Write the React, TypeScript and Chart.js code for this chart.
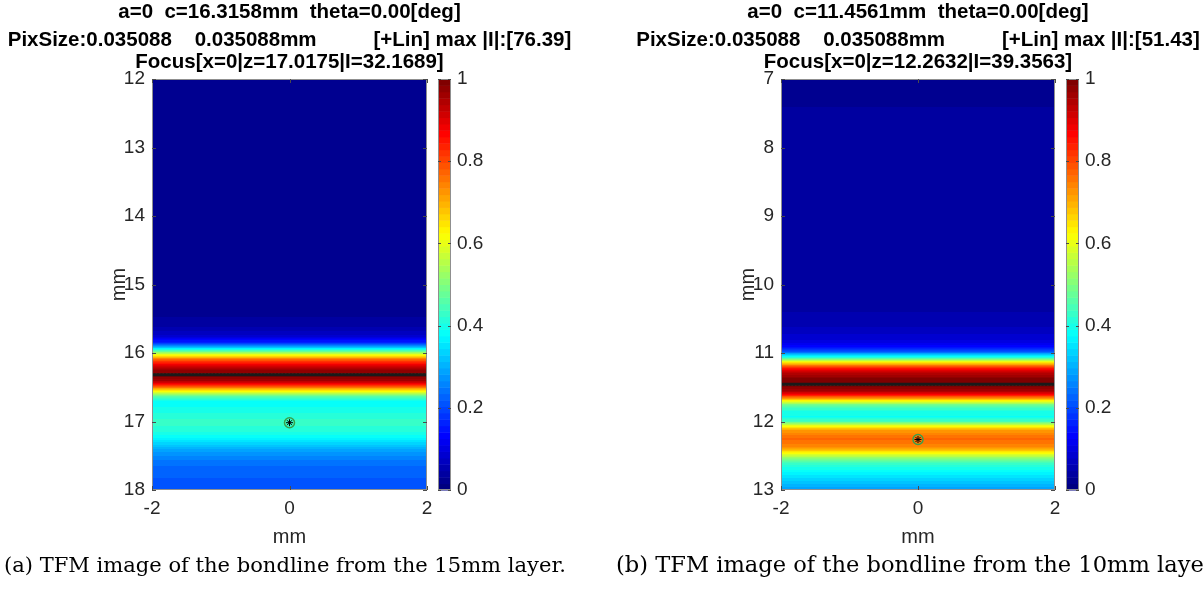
import React, { useEffect, useRef } from "react";
import { Chart, registerables } from "chart.js";

Chart.register(...registerables);

// ---------- data ----------
const X_RANGE = [-2, 2];
const X_TICKS = [-2, 0, 2];
const CB_TICKS = [0, 0.2, 0.4, 0.6, 0.8, 1];

const A_TITLE = [
  "a=0  c=16.3158mm  theta=0.00[deg]",
  "PixSize:0.035088    0.035088mm          [+Lin] max |I|:[76.39]",
  "Focus[x=0|z=17.0175|I=32.1689]",
];
const A_Y_RANGE = [12, 18];
const A_Y_TICKS = [12, 13, 14, 15, 16, 17, 18];
const A_DEPTH = [12, 15.3, 15.6, 15.75, 15.85, 15.93, 16.03, 16.1, 16.17, 16.25, 16.33, 16.4, 16.45, 16.5, 16.57, 16.64, 16.72, 16.85, 17.0, 17.15, 17.27, 17.42, 17.6, 17.8, 18];
const A_INTENSITY = [0.02, 0.02, 0.04, 0.08, 0.17, 0.35, 0.62, 0.78, 0.88, 0.97, 1.0, 0.96, 0.88, 0.76, 0.6, 0.45, 0.38, 0.4, 0.43, 0.41, 0.36, 0.29, 0.24, 0.22, 0.21];
const A_INTERFACE = 16.3158;
const A_FOCUS = { x: 0, z: 17.0175 };
const A_CAPTION = "(a) TFM image of the bondline from the 15mm layer.";

const B_TITLE = [
  "a=0  c=11.4561mm  theta=0.00[deg]",
  "PixSize:0.035088    0.035088mm          [+Lin] max |I|:[51.43]",
  "Focus[x=0|z=12.2632|I=39.3563]",
];
const B_Y_RANGE = [7, 13];
const B_Y_TICKS = [7, 8, 9, 10, 11, 12, 13];
const B_DEPTH = [7, 10.3, 10.6, 10.8, 10.9, 10.98, 11.06, 11.13, 11.2, 11.27, 11.38, 11.47, 11.55, 11.6, 11.65, 11.7, 11.76, 11.85, 11.93, 12.0, 12.06, 12.13, 12.25, 12.37, 12.45, 12.53, 12.63, 12.78, 12.9, 13];
const B_INTENSITY = [0.03, 0.04, 0.06, 0.09, 0.13, 0.22, 0.4, 0.62, 0.8, 0.92, 0.99, 1.0, 0.96, 0.88, 0.76, 0.62, 0.48, 0.4, 0.39, 0.45, 0.6, 0.72, 0.77, 0.74, 0.64, 0.52, 0.42, 0.36, 0.32, 0.28];
const B_INTERFACE = 11.4561;
const B_FOCUS = { x: 0, z: 12.2632 };
const B_CAPTION = "(b) TFM image of the bondline from the 10mm layer.";

// ---------- helpers ----------
const clamp01 = (t: number) => Math.max(0, Math.min(1, t));
function jet(v: number) {
  const r = clamp01(1.5 - Math.abs(4 * v - 3));
  const g = clamp01(1.5 - Math.abs(4 * v - 2));
  const b = clamp01(1.5 - Math.abs(4 * v - 1));
  return `rgb(${Math.round(r * 255)},${Math.round(g * 255)},${Math.round(b * 255)})`;
}
function jetLevel(v: number) {
  const i = Math.max(0, Math.min(63, Math.floor(v * 64)));
  return jet(i / 63);
}
function interp(zs: number[], vs: number[], z: number) {
  if (z <= zs[0]) return vs[0];
  for (let i = 1; i < zs.length; i++) {
    if (z <= zs[i]) {
      const t = (z - zs[i - 1]) / (zs[i] - zs[i - 1]);
      return vs[i - 1] + t * (vs[i] - vs[i - 1]);
    }
  }
  return vs[vs.length - 1];
}

const FONT = '"Liberation Sans", Arial, Helvetica, sans-serif';
const SERIF = '"DejaVu Serif", "Liberation Serif", serif';
const TEXT = "#262626";

type PanelProps = {
  left: number;
  width: number;
  yWidth: number;
  cbWidth: number;
  title: string[];
  yRange: number[];
  yTicks: number[];
  depth: number[];
  intensity: number[];
  iface: number;
  focus: { x: number; z: number };
};

const HEIGHT = 555;

function Panel(p: PanelProps) {
  const ref = useRef<HTMLCanvasElement | null>(null);
  useEffect(() => {
    const canvas = ref.current!;
    const heat = {
      id: "heat",
      beforeDatasetsDraw(chart: any) {
        const { ctx, chartArea, scales } = chart;
        const x0 = scales.x.getPixelForValue(X_RANGE[0]);
        const x1 = scales.x.getPixelForValue(X_RANGE[1]);
        ctx.save();
        for (let py = Math.floor(chartArea.top); py < Math.ceil(chartArea.bottom); py++) {
          const z = scales.y.getValueForPixel(py + 0.5);
          ctx.fillStyle = jetLevel(interp(p.depth, p.intensity, z));
          ctx.fillRect(x0, py, x1 - x0, 1);
        }
        ctx.restore();
      },
    };
    const deco = {
      id: "deco",
      afterDraw(chart: any) {
        const { ctx, chartArea, scales } = chart;
        const { left, right, top, bottom } = chartArea;
        ctx.save();
        // axes box
        ctx.strokeStyle = "#8f8f8f";
        ctx.lineWidth = 1;
        ctx.strokeRect(Math.round(left) + 0.5, Math.round(top) + 0.5, Math.round(right - left) - 1, Math.round(bottom - top) - 1);
        // inward ticks
        ctx.strokeStyle = "#4a4a4a";
        ctx.beginPath();
        const tl = 4;
        p.yTicks.forEach((v) => {
          const yy = Math.round(scales.y.getPixelForValue(v)) + 0.5;
          ctx.moveTo(left, yy); ctx.lineTo(left + tl, yy);
          ctx.moveTo(right, yy); ctx.lineTo(right - tl, yy);
        });
        X_TICKS.forEach((v) => {
          const xx = Math.round(scales.x.getPixelForValue(v)) + 0.5;
          ctx.moveTo(xx, bottom); ctx.lineTo(xx, bottom - tl);
          ctx.moveTo(xx, top); ctx.lineTo(xx, top + tl);
        });
        ctx.stroke();
        // colorbar
        const cb = scales.cb;
        const cx = Math.round(right) + 11;
        const cw = 13;
        for (let i = 0; i < 64; i++) {
          const y0 = cb.getPixelForValue(i / 64);
          const y1 = cb.getPixelForValue((i + 1) / 64);
          ctx.fillStyle = jet(i / 63);
          ctx.fillRect(cx, Math.min(y0, y1), cw, Math.abs(y1 - y0) + 0.5);
        }
        ctx.strokeStyle = "#8f8f8f";
        ctx.strokeRect(cx + 0.5, Math.round(top) + 0.5, cw - 1, Math.round(bottom - top) - 1);
        ctx.strokeStyle = "#4a4a4a";
        ctx.beginPath();
        CB_TICKS.forEach((v) => {
          const yy = Math.round(cb.getPixelForValue(v)) + 0.5;
          ctx.moveTo(cx + cw, yy); ctx.lineTo(cx + cw - 3, yy);
          ctx.moveTo(cx, yy); ctx.lineTo(cx + 3, yy);
        });
        ctx.stroke();
        // titles
        const mid = (left + right) / 2;
        ctx.fillStyle = "#000";
        ctx.textAlign = "center";
        ctx.textBaseline = "middle";
        ctx.font = `bold 20.5px ${FONT}`;
        const ty = [12, 40, 62];
        p.title.forEach((t, i) => ctx.fillText(t, mid, ty[i]));
        // axis labels
        ctx.fillStyle = TEXT;
        ctx.font = `20px ${FONT}`;
        ctx.fillText("mm", mid, 537);
        ctx.translate(left - 33, (top + bottom) / 2);
        ctx.rotate(-Math.PI / 2);
        ctx.fillText("mm", 0, 0);
        ctx.restore();
      },
    };
    const tickFont = { family: FONT, size: 19 };
    const chart = new Chart(canvas, {
      type: "scatter",
      data: {
        datasets: [
          {
            data: [{ x: X_RANGE[0], y: p.iface }, { x: X_RANGE[1], y: p.iface }],
            showLine: true,
            borderColor: "#1a1a1a",
            borderWidth: 3,
            pointRadius: 0,
          },
          {
            data: [{ x: X_RANGE[0], y: p.iface }, { x: X_RANGE[1], y: p.iface }],
            showLine: true,
            borderColor: "#c4e23a",
            borderWidth: 2,
            borderDash: [1.5, 2],
            pointRadius: 0,
          },
          {
            data: [{ x: p.focus.x, y: p.focus.z }],
            pointStyle: "circle",
            pointRadius: 5,
            borderColor: "#3aa04a",
            backgroundColor: "rgba(0,0,0,0)",
            borderWidth: 1.5,
          },
          {
            data: [{ x: p.focus.x, y: p.focus.z }],
            pointStyle: "star",
            pointRadius: 3.5,
            borderColor: "#000",
            borderWidth: 1,
          },
        ] as any,
      },
      options: {
        animation: false,
        responsive: false,
        devicePixelRatio: 1,
        events: [],
        layout: { padding: { top: 79, left: 0, right: 0, bottom: 0 } },
        plugins: { legend: { display: false }, tooltip: { enabled: false }, title: { display: false } },
        scales: {
          x: {
            type: "linear",
            position: "bottom",
            min: X_RANGE[0],
            max: X_RANGE[1],
            afterBuildTicks: (s: any) => { s.ticks = X_TICKS.map((v) => ({ value: v })); },
            ticks: { font: tickFont, color: TEXT, padding: 7, maxRotation: 0, autoSkip: false, callback: (v: any) => String(v) },
            grid: { display: false, drawTicks: false },
            border: { display: false },
            afterFit: (s: any) => { s.height = HEIGHT - 490; },
          },
          y: {
            type: "linear",
            position: "left",
            min: p.yRange[0],
            max: p.yRange[1],
            reverse: true,
            afterBuildTicks: (s: any) => { s.ticks = p.yTicks.map((v) => ({ value: v })); },
            ticks: { font: tickFont, color: TEXT, padding: 7, autoSkip: false, callback: (v: any) => String(v) },
            grid: { display: false, drawTicks: false },
            border: { display: false },
            afterFit: (s: any) => { s.width = p.yWidth; },
          },
          cb: {
            type: "linear",
            position: "right",
            min: 0,
            max: 1,
            afterBuildTicks: (s: any) => { s.ticks = CB_TICKS.map((v) => ({ value: v })); },
            ticks: { font: tickFont, color: TEXT, padding: 30, autoSkip: false, callback: (v: any) => String(Math.round(v * 10) / 10) },
            grid: { display: false, drawTicks: false },
            border: { display: false },
            afterFit: (s: any) => { s.width = p.cbWidth; },
          },
        } as any,
      },
      plugins: [heat, deco],
    });
    return () => chart.destroy();
  }, []);
  return (
    <canvas
      ref={ref}
      width={p.width}
      height={HEIGHT}
      style={{ position: "absolute", left: p.left, top: 0, width: p.width, height: HEIGHT }}
    />
  );
}

function fitSize(text: string, target: number) {
  const c = document.createElement("canvas").getContext("2d")!;
  c.font = `100px ${SERIF}`;
  const w = c.measureText(text).width;
  return (100 * target) / w;
}

export default function App() {
  const sizeA = fitSize(A_CAPTION, 562);
  const sizeB = fitSize(B_CAPTION.slice(0, B_CAPTION.length - 2), 588);
  const cap = (size: number): React.CSSProperties => ({
    position: "absolute",
    top: 565 - size * 0.62,
    whiteSpace: "nowrap",
    fontFamily: SERIF,
    fontSize: size,
    lineHeight: `${Math.round(size * 1.2)}px`,
    color: "#000",
  });
  return (
    <div
      style={{
        position: "absolute",
        left: 0,
        top: 0,
        width: 1203,
        height: 591,
        overflow: "hidden",
        background: "#fff",
      }}
    >
      <Panel
        left={0}
        width={600}
        yWidth={152}
        cbWidth={173}
        title={A_TITLE}
        yRange={A_Y_RANGE}
        yTicks={A_Y_TICKS}
        depth={A_DEPTH}
        intensity={A_INTENSITY}
        iface={A_INTERFACE}
        focus={A_FOCUS}
      />
      <Panel
        left={600}
        width={603}
        yWidth={181}
        cbWidth={148}
        title={B_TITLE}
        yRange={B_Y_RANGE}
        yTicks={B_Y_TICKS}
        depth={B_DEPTH}
        intensity={B_INTENSITY}
        iface={B_INTERFACE}
        focus={B_FOCUS}
      />
      <div style={{ ...cap(sizeA), left: 4 }}>{A_CAPTION}</div>
      <div style={{ ...cap(sizeB), left: 616 }}>{B_CAPTION}</div>
    </div>
  );
}
